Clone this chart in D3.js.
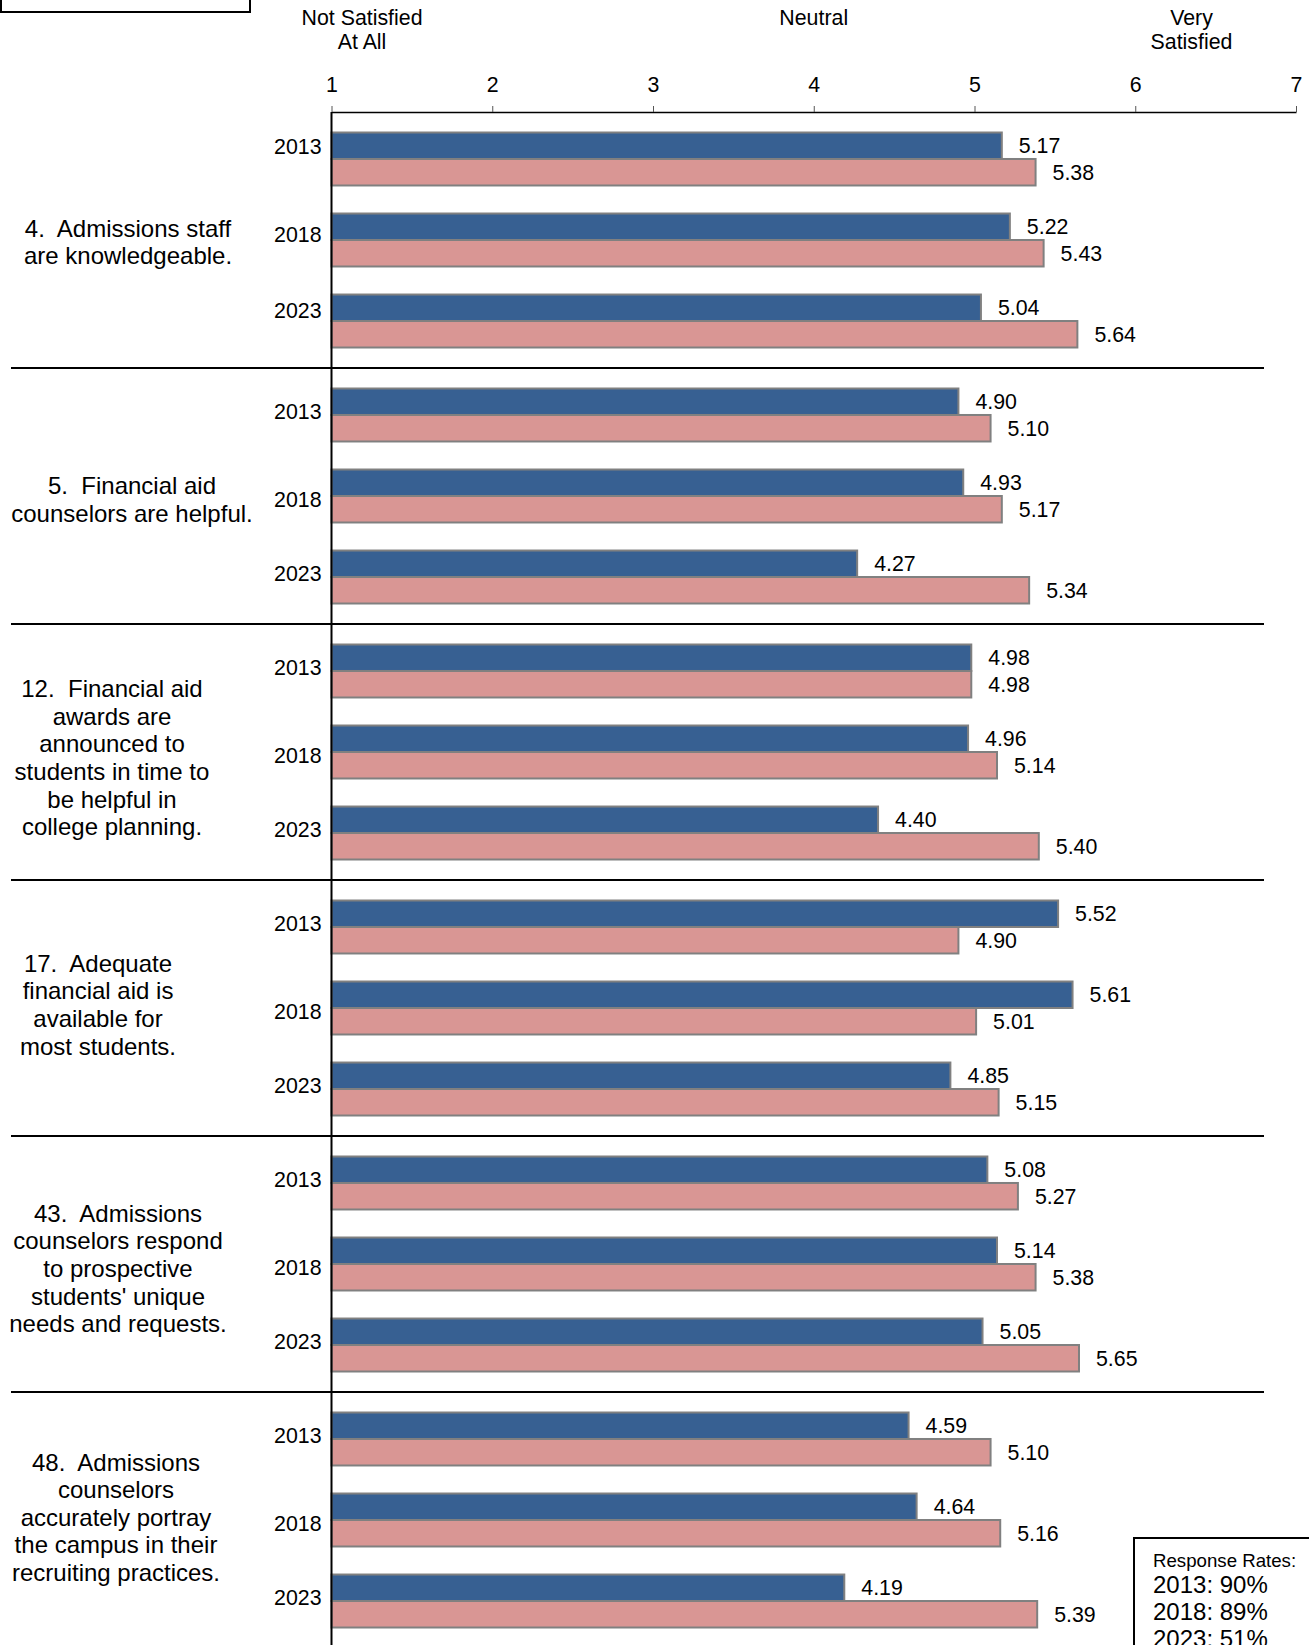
<!DOCTYPE html>
<html>
<head>
<meta charset="utf-8">
<script src="https://cdn.jsdelivr.net/npm/d3@7"></script>
<style>
  html, body { margin: 0; padding: 0; background: #fff; }
  svg { display: block; font-family: "Liberation Sans", Arial, sans-serif; }
  svg text { white-space: pre; }
</style>
</head>
<body>
<svg id="chart" width="1309" height="1645"></svg>
<script>
// ---------- data ----------
const questionLines = [
  ["4.  Admissions staff", "are knowledgeable."],
  ["5.  Financial aid", "counselors are helpful."],
  ["12.  Financial aid", "awards are", "announced to", "students in time to", "be helpful in", "college planning."],
  ["17.  Adequate", "financial aid is", "available for", "most students."],
  ["43.  Admissions", "counselors respond", "to prospective", "students' unique", "needs and requests."],
  ["48.  Admissions", "counselors", "accurately portray", "the campus in their", "recruiting practices."]
];
const years = ["2013", "2018", "2023"];
const seriesBlue = [
  [5.17, 5.22, 5.04],
  [4.90, 4.93, 4.27],
  [4.98, 4.96, 4.40],
  [5.52, 5.61, 4.85],
  [5.08, 5.14, 5.05],
  [4.59, 4.64, 4.19]
];
const seriesPink = [
  [5.38, 5.43, 5.64],
  [5.10, 5.17, 5.34],
  [4.98, 5.14, 5.40],
  [4.90, 5.01, 5.15],
  [5.27, 5.38, 5.65],
  [5.10, 5.16, 5.39]
];
const tickValues = [1, 2, 3, 4, 5, 6, 7];
const anchorLabels = [
  { v: 1.19, lines: ["Not Satisfied", "At All"] },
  { v: 4, lines: ["Neutral"] },
  { v: 6.35, lines: ["Very", "Satisfied"] }
];
const responseRates = ["2013: 90%", "2018: 89%", "2023: 51%"];

// ---------- layout ----------
const svg = d3.select("#chart");
const axisY = 112, groupH = 256;
const labelCx = [128, 132, 112, 98, 118, 116];
const labelDy = [0, 1.5, 3.7, -5.2, 2.6, -4.7];
const yearLabelOffset = [
  [-12, -5, -10],
  [-3.7, 3.7, -3.7], [-3.7, 3.7, -3.7], [-3.7, 3.7, -3.7],
  [-3.7, 3.7, -3.7], [-3.7, 3.7, -3.7]
];
const colors = { blue: "#376092", pink: "#D99694" };
const fs = 21.33;

const x = d3.scaleLinear().domain([1, 7]).range([331.5, 1296]);
const yGroup = d3.scaleBand().domain(d3.range(questionLines.length))
  .range([axisY, axisY + groupH * questionLines.length]);
const yYear = d3.scaleBand().domain(years).range([0, groupH])
  .paddingInner(0.346).paddingOuter(0.253);
const ySeries = d3.scaleBand().domain(["blue", "pink"]).range([0, yYear.bandwidth()]);

// top-left partial box
svg.append("rect").attr("x", 1).attr("y", -40).attr("width", 249).attr("height", 52)
  .attr("fill", "none").attr("stroke", "#000").attr("stroke-width", 2);

// anchor labels
anchorLabels.forEach(a => {
  a.lines.forEach((t, i) => {
    svg.append("text").attr("x", x(a.v)).attr("y", 18 + i * 23.5)
      .attr("dy", "0.35em").attr("text-anchor", "middle")
      .attr("font-size", fs).attr("fill", "#000").text(t);
  });
});

// top axis
const axis = d3.axisTop(x).tickValues(tickValues).tickSize(6).tickSizeOuter(0).tickPadding(14)
  .tickFormat(d3.format("d"));
const gAxis = svg.append("g").attr("transform", `translate(0,${axisY})`).call(axis);
gAxis.select(".domain").attr("stroke", "#000").attr("stroke-width", 1.5);
gAxis.selectAll(".tick line").attr("stroke", "#555").attr("stroke-width", 1);
gAxis.selectAll(".tick text").attr("font-size", fs).attr("fill", "#000")
  .attr("font-family", "Liberation Sans, Arial, sans-serif");

// groups
questionLines.forEach((lines, gi) => {
  const g = svg.append("g").attr("transform", `translate(0,${yGroup(gi)})`);
  const gCenter = groupH / 2;
  const lh = 27.6;
  lines.forEach((t, li) => {
    g.append("text").attr("x", labelCx[gi])
      .attr("y", gCenter + (li - (lines.length - 1) / 2) * lh + 2 + labelDy[gi])
      .attr("dy", "0.35em").attr("text-anchor", "middle")
      .attr("font-size", 24).attr("fill", "#000").text(t);
  });
  years.forEach((yr, yi) => {
    const y0 = yYear(yr);
    const vals = { blue: seriesBlue[gi][yi], pink: seriesPink[gi][yi] };
    ["blue", "pink"].forEach(s => {
      const by = y0 + ySeries(s);
      g.append("rect").attr("x", x(1)).attr("y", by)
        .attr("width", x(vals[s]) - x(1)).attr("height", ySeries.bandwidth())
        .attr("fill", colors[s]).attr("stroke", "#808080").attr("stroke-width", 2);
      g.append("text").attr("x", x(vals[s]) + 17).attr("y", by + ySeries.bandwidth() / 2)
        .attr("dy", "0.35em").attr("font-size", fs).attr("fill", "#000")
        .text(d3.format(".2f")(vals[s]));
    });
    g.append("text").attr("x", x(1) - 10)
      .attr("y", y0 + yYear.bandwidth() / 2 + yearLabelOffset[gi][yi])
      .attr("dy", "0.35em").attr("text-anchor", "end")
      .attr("font-size", fs).attr("fill", "#000").text(yr);
  });
  if (gi > 0) {
    svg.append("line").attr("x1", 11).attr("x2", 1264)
      .attr("y1", yGroup(gi)).attr("y2", yGroup(gi))
      .attr("stroke", "#000").attr("stroke-width", 2);
  }
});

// vertical axis line
svg.append("line").attr("x1", x(1)).attr("x2", x(1)).attr("y1", axisY).attr("y2", 1645)
  .attr("stroke", "#000").attr("stroke-width", 2);

// response rates box
const rb = svg.append("g");
rb.append("rect").attr("x", 1134).attr("y", 1538).attr("width", 200).attr("height", 140)
  .attr("fill", "#fff").attr("stroke", "#000").attr("stroke-width", 2);
rb.append("text").attr("x", 1153).attr("y", 1560).attr("dy", "0.35em")
  .attr("font-size", 18.67).attr("fill", "#000").text("Response Rates:");
responseRates.forEach((t, i) => {
  rb.append("text").attr("x", 1153).attr("y", 1585 + i * 27).attr("dy", "0.35em")
    .attr("font-size", 24).attr("fill", "#000").text(t);
});
</script>
</body>
</html>
